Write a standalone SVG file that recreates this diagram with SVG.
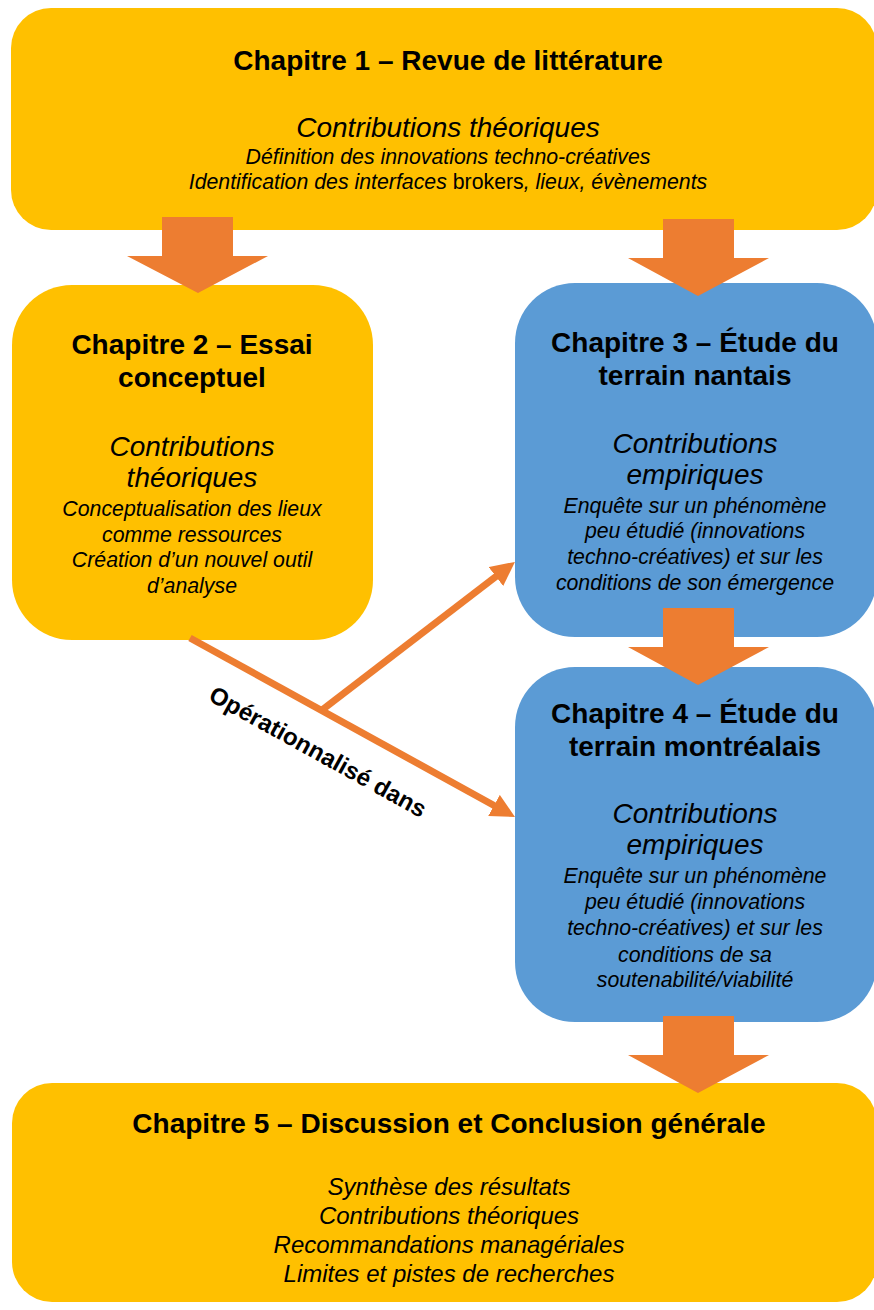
<svg xmlns="http://www.w3.org/2000/svg" width="874" height="1310" viewBox="0 0 874 1310">
<style>
text{font-family:"Liberation Sans",Arial,Helvetica,sans-serif;fill:#000;text-anchor:middle}
.t{font-size:28px;font-weight:bold}
.c{font-size:28px;font-style:italic}
.b{font-size:21.3px;font-style:italic}
.b5{font-size:24px;font-style:italic}
.y{fill:#FFC000}
.bl{fill:#5B9BD5}
.ba{fill:#ED7D31}
.ln{stroke:#ED7D31;stroke-width:7;fill:none}
</style>
<defs>
<marker id="ah" viewBox="0 0 24 24" refX="12" refY="12" markerWidth="24" markerHeight="24" markerUnits="userSpaceOnUse" orient="auto">
<path d="M0,0 L24,12 L0,24 z" fill="#ED7D31"/>
</marker>
</defs>
<rect width="874" height="1310" fill="#fff"/>
<g id="ch1">
<rect class="y" x="11" y="8" width="866" height="222" rx="40"/>
<text class="t" x="448" y="70">Chapitre 1 – Revue de littérature</text>
<text class="c" x="448" y="137">Contributions théoriques</text>
<text class="b" x="448" y="164">Définition des innovations techno-créatives</text>
<text class="b" x="448" y="189">Identification des interfaces <tspan font-style="normal">brokers</tspan>, lieux, évènements</text>
</g>
<g id="ch2">
<rect class="y" x="12" y="285" width="361" height="355" rx="60"/>
<text class="t" x="192" y="354">Chapitre 2 – Essai</text>
<text class="t" x="192" y="387">conceptuel</text>
<text class="c" x="192" y="456">Contributions</text>
<text class="c" x="192" y="487">théoriques</text>
<text class="b" x="192" y="516">Conceptualisation des lieux</text>
<text class="b" x="192" y="542">comme ressources</text>
<text class="b" x="192" y="567">Création d’un nouvel outil</text>
<text class="b" x="192" y="593">d’analyse</text>
</g>
<g id="ch3">
<rect class="bl" x="515" y="283" width="362" height="354" rx="60"/>
<text class="t" x="695" y="352">Chapitre 3 – Étude du</text>
<text class="t" x="695" y="385">terrain nantais</text>
<text class="c" x="695" y="453">Contributions</text>
<text class="c" x="695" y="484">empiriques</text>
<text class="b" x="695" y="513">Enquête sur un phénomène</text>
<text class="b" x="695" y="538">peu étudié (innovations</text>
<text class="b" x="695" y="564">techno-créatives) et sur les</text>
<text class="b" x="695" y="590">conditions de son émergence</text>
</g>
<g id="ch4">
<rect class="bl" x="515" y="667" width="362" height="355" rx="60"/>
<text class="t" x="695" y="723">Chapitre 4 – Étude du</text>
<text class="t" x="695" y="756">terrain montréalais</text>
<text class="c" x="695" y="823">Contributions</text>
<text class="c" x="695" y="854">empiriques</text>
<text class="b" x="695" y="883">Enquête sur un phénomène</text>
<text class="b" x="695" y="909">peu étudié (innovations</text>
<text class="b" x="695" y="935">techno-créatives) et sur les</text>
<text class="b" x="695" y="962">conditions de sa</text>
<text class="b" x="695" y="987">soutenabilité/viabilité</text>
</g>
<g id="ch5">
<rect class="y" x="12" y="1083" width="865" height="219" rx="40"/>
<text class="t" x="449" y="1133">Chapitre 5 – Discussion et Conclusion générale</text>
<text class="b5" x="449" y="1195">Synthèse des résultats</text>
<text class="b5" x="449" y="1224">Contributions théoriques</text>
<text class="b5" x="449" y="1253">Recommandations managériales</text>
<text class="b5" x="449" y="1282">Limites et pistes de recherches</text>
</g>
<g id="connectors">
<polygon class="ba" points="162,217 233,217 233,256 268,256 198,293 127,256 162,256"/>
<polygon class="ba" points="663,219 734,219 734,258 769,258 698,296 628,258 663,258"/>
<polygon class="ba" points="663,608 734,608 734,647 769,647 698,685 628,647 663,647"/>
<polygon class="ba" points="663,1016 734,1016 734,1055 769,1055 698,1093 628,1055 663,1055"/>
<line class="ln" x1="190" y1="638" x2="504.5" y2="811.2" marker-end="url(#ah)"/>
<line class="ln" x1="322" y1="710" x2="505.4" y2="569.2" marker-end="url(#ah)"/>
<text transform="translate(314,759) rotate(29)" font-size="24" font-weight="bold">Opérationnalisé dans</text>
</g>
</svg>
